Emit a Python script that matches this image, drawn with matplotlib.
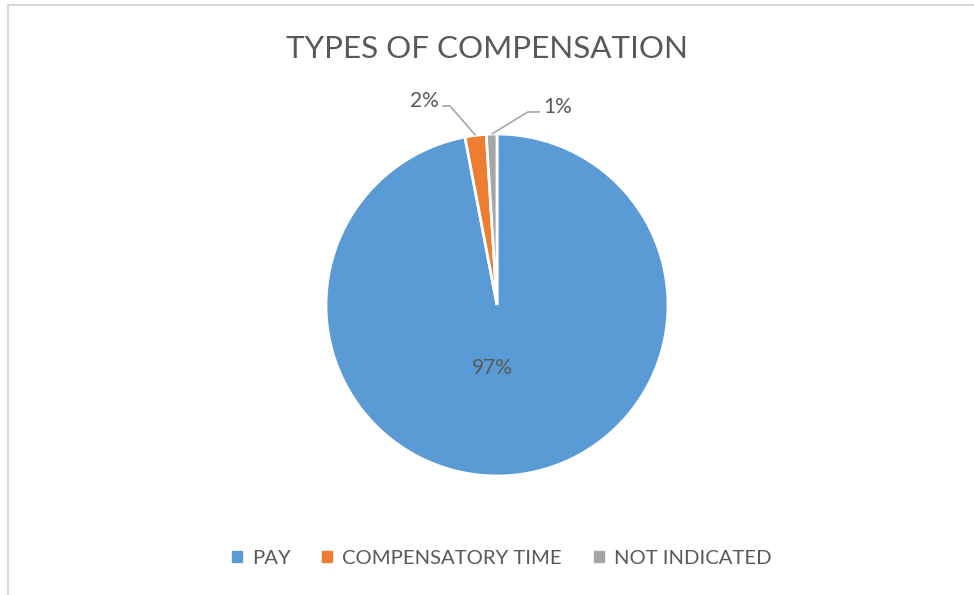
import numpy as np
import matplotlib
matplotlib.use("Agg")
import matplotlib.pyplot as plt
from matplotlib.lines import Line2D
from matplotlib.patches import Rectangle

plt.rcParams['font.family'] = ['Lato', 'DejaVu Sans']

categories = ["PAY", "COMPENSATORY TIME", "NOT INDICATED"]
shares = [97, 2, 1]
colors = ["#5B9BD5", "#ED7D31", "#A5A5A5"]
text_color = "#595959"

W, H = 974, 595
fig = plt.figure(figsize=(W / 100, H / 100), dpi=100)

# light chart-area frame (top and left edges only)
fig.add_artist(Line2D([8 / W, 1.0], [1 - 5 / H, 1 - 5 / H], color="#D9D9D9", lw=1.5))
fig.add_artist(Line2D([8 / W, 8 / W], [0, 1 - 5 / H], color="#D9D9D9", lw=1.5))

# pie: centre (497, 305) px, radius 171 px
cx, cy, r = 497, 305, 171
ax = fig.add_axes([(cx - r) / W, (H - cy - r) / H, 2 * r / W, 2 * r / H])
wedges, _ = ax.pie(shares, colors=colors, startangle=90, counterclock=False,
                   wedgeprops=dict(edgecolor="white", linewidth=2))
ax.set_xlim(-1, 1)
ax.set_ylim(-1, 1)
ax.axis("off")

# inside label for the big slice
w0 = wedges[0]
mid0 = np.deg2rad((w0.theta1 + w0.theta2) / 2)
ax.text(0.37 * np.cos(mid0) - 0.06, 0.37 * np.sin(mid0), f"{shares[0]}%",
        ha="center", va="center", fontsize=15, color=text_color)

# outside labels with leader lines for the small slices
label_spots = {1: (-0.32, 1.164, -0.275, "right"), 2: (0.251, 1.129, 0.181, "left")}
for i, (xend, ylab, xelb, ha) in label_spots.items():
    w = wedges[i]
    mid = np.deg2rad((w.theta1 + w.theta2) / 2)
    px, py = np.cos(mid), np.sin(mid)
    ax.plot([px, xelb, xend], [py, ylab, ylab], color="#A6A6A6", lw=1.2,
            clip_on=False, solid_capstyle="butt")
    tx = xend - 0.02 if ha == "right" else xend + 0.02
    ax.text(tx, ylab + 0.03, f"{shares[i]}%", ha=ha, va="center",
            fontsize=15, color=text_color)

fig.text(0.5, 1 - 49 / H, "TYPES OF COMPENSATION", ha="center", va="center",
         fontsize=22.6, color=text_color)

handles = [Rectangle((0, 0), 1, 1, color=c) for c in colors]
fig.legend(handles, categories, loc="center", bbox_to_anchor=(0.515, 1 - 558 / H),
           ncol=3, frameon=False, fontsize=14.6, labelcolor=text_color,
           handlelength=0.5, handleheight=0.5, handletextpad=0.5,
           columnspacing=1.55)

fig.savefig("out.png", dpi=100)
